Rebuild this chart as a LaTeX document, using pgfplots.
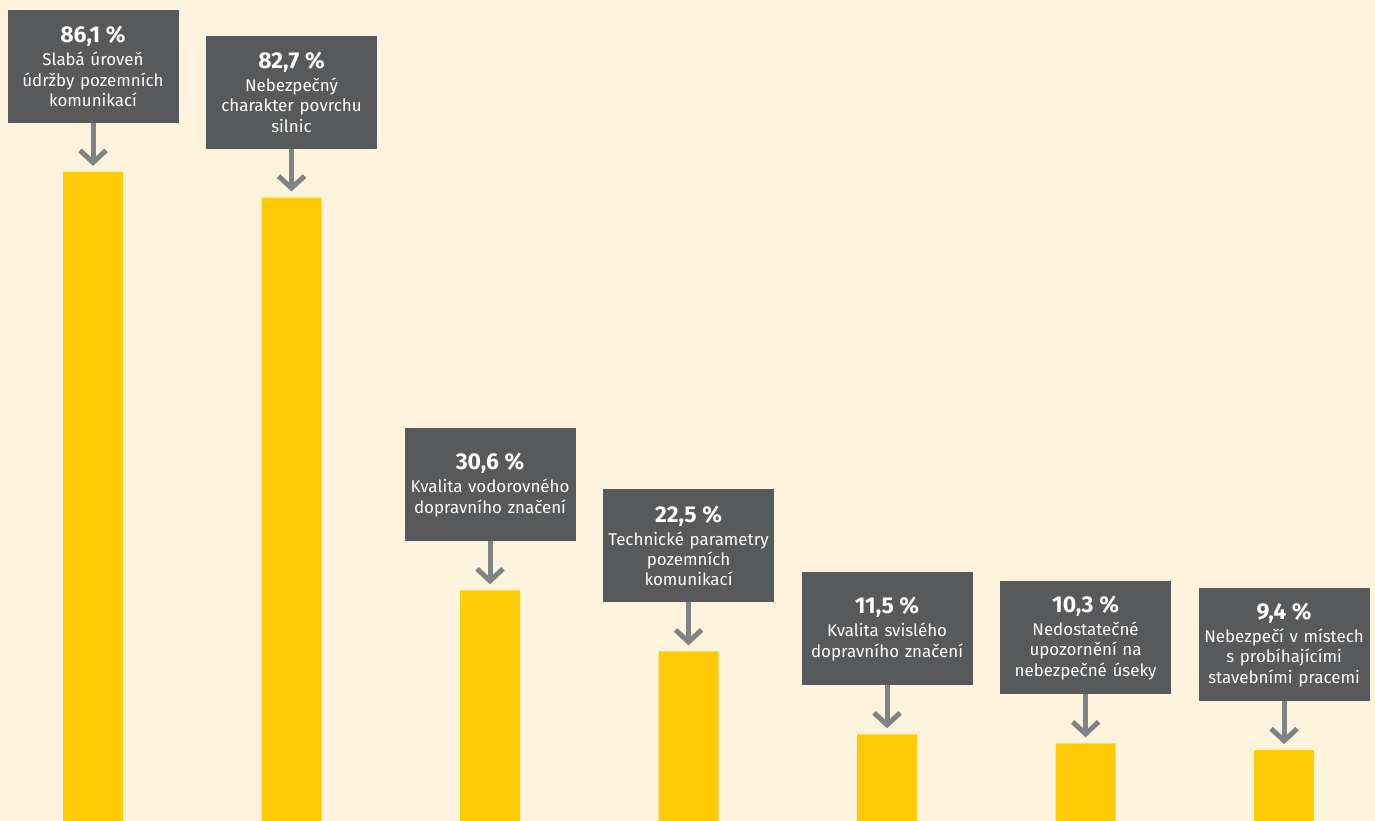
\documentclass[border=0pt]{standalone}
\usepackage{pgfplots}
\pgfplotsset{compat=1.18}
\usepackage{pgfplotstable}
\usepackage{fontspec}
\setmainfont{Fira Sans}
\usetikzlibrary{arrows.meta}
\definecolor{bgcream}{HTML}{FEF3DC}
\definecolor{baryellow}{HTML}{FFCB08}
\definecolor{boxgray}{HTML}{58595B}
\definecolor{arrowgray}{HTML}{808285}
\pgfplotstableread{
x y label
0 86.1 {Slabá úroveň\\údržby pozemních\\komunikací}
1 82.7 {Nebezpečný\\charakter povrchu\\silnic}
2 30.6 {Kvalita vodorovného\\dopravního značení}
3 22.5 {Technické parametry\\pozemních\\komunikací}
4 11.5 {Kvalita svislého\\dopravního značení}
5 10.3 {Nedostatečné\\upozornění na\\nebezpečné úseky}
6 9.4 {Nebezpečí v místech\\s probíhajícími\\stavebními pracemi}
}\datatable
\begin{document}
\begin{tikzpicture}
\begin{axis}[
  scale only axis,
  width=687.5bp, height=410.5bp,
  xmin=-0.4685, xmax=6.458,
  ymin=0, ymax=108.9,
  axis lines=none,
  ticks=none,
  axis background/.style={fill=bgcream},
  clip=false,
]
\addplot[quiver={u=0, v=-5.83}, draw=arrowgray, line width=2.5bp,
  -{Straight Barb[length=6bp, width=13bp]}]
  table[x=x, y expr=\thisrow{y}+6.63] {\datatable};
\addplot[ybar, bar width=30bp, bar shift=0pt, fill=baryellow, draw=none,
  point meta=explicit symbolic,
  visualization depends on={y \as \rawy},
  nodes near coords={{\fontsize{11.5}{12}\selectfont\bfseries\pgfmathprintnumber[fixed,precision=1,fixed zerofill,use comma,assume math mode=true]{\rawy}~\%}\\[1.5bp]\pgfplotspointmeta},
  every node near coord/.style={anchor=south, yshift=24.5bp, fill=boxgray, text=white,
    text width=85.5bp, align=center, inner xsep=0pt, inner ysep=0pt, outer sep=0pt,
    minimum height=56.5bp, font=\fontsize{8.5}{10.2}\selectfont},
] table[x=x, y=y, meta=label] {\datatable};
\end{axis}
\end{tikzpicture}
\end{document}
